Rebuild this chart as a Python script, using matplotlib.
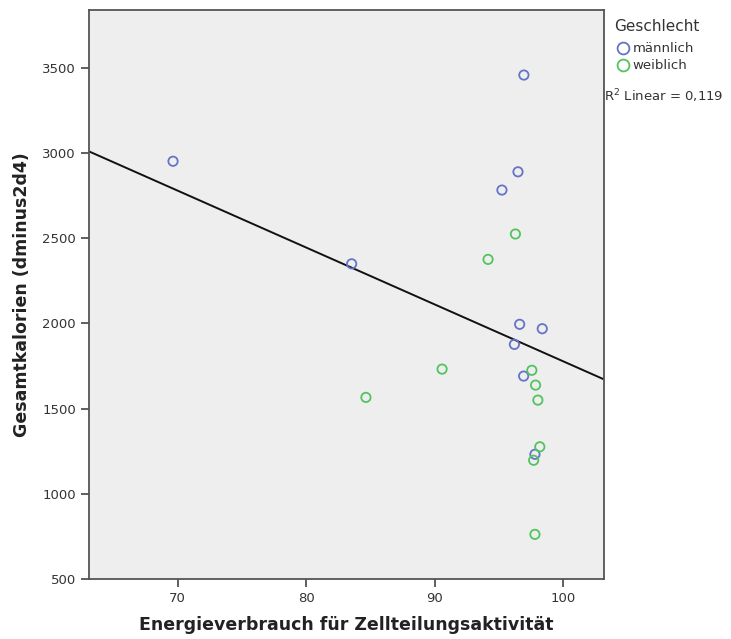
import numpy as np
import matplotlib
matplotlib.use("Agg")
import matplotlib.pyplot as plt
from matplotlib.lines import Line2D

# männlich
m_x = [96.96, 96.5, 95.25, 96.63, 98.39, 96.22, 96.94, 97.82, 69.64, 83.55]
m_y = [3458, 2890, 2783, 1995, 1969, 1877, 1691, 1232, 2952, 2350]
# weiblich
w_x = [96.3, 94.17, 97.58, 97.87, 98.05, 90.59, 98.2, 97.72, 97.82, 84.66]
w_y = [2525, 2376, 1725, 1638, 1550, 1732, 1276, 1197, 762, 1566]

x_ticks = [70, 80, 90, 100]
y_ticks = [500, 1000, 1500, 2000, 2500, 3000, 3500]

blue = "#6474C6"
green = "#52C45E"

fig = plt.figure(figsize=(7.31, 6.39), dpi=100)
ax = fig.add_axes([0.1218, 0.0939, 0.7045, 0.8905])
ax.set_facecolor("#EEEEEE")

ax.scatter(m_x, m_y, s=45, facecolors="none", edgecolors=blue, linewidths=1.3, zorder=3)
ax.scatter(w_x, w_y, s=45, facecolors="none", edgecolors=green, linewidths=1.3, zorder=3)

# linear fit over all points
all_x = np.array(m_x + w_x)
all_y = np.array(m_y + w_y)
slope, icpt = np.polyfit(all_x, all_y, 1)
xl = np.array([63.1, 103.2])
ax.plot(xl, icpt + slope * xl, color="#111111", lw=1.4, zorder=2)

ax.set_xlim(63.1, 103.2)
ax.set_ylim(500, 3840)
ax.set_xticks(x_ticks)
ax.set_yticks(y_ticks)
ax.tick_params(direction="out", length=6, width=1.2, color="#444444",
               labelsize=9.5, labelcolor="#333333")
for s in ax.spines.values():
    s.set_color("#555555")
    s.set_linewidth(1.3)

ax.set_xlabel("Energieverbrauch für Zellteilungsaktivität", fontsize=12.5,
              fontweight="bold", color="#222222", labelpad=8)
ax.set_ylabel("Gesamtkalorien (dminus2d4)", fontsize=12.5,
              fontweight="bold", color="#222222", labelpad=8)

fig.text(0.840, 0.958, "Geschlecht", fontsize=11, color="#333333", va="center")
handles = [Line2D([], [], marker="o", ls="none", mfc="none", mec=blue, mew=1.3, ms=8.5),
           Line2D([], [], marker="o", ls="none", mfc="none", mec=green, mew=1.3, ms=8.5)]
leg = fig.legend(handles, ["männlich", "weiblich"], loc="upper left",
                 bbox_to_anchor=(0.842, 0.934), frameon=False, fontsize=9.5,
                 handletextpad=0.1, borderaxespad=0, labelspacing=0.3,
                 handlelength=1.2, borderpad=0)
for t in leg.get_texts():
    t.set_color("#333333")
fig.text(0.826, 0.850, "R$^2$ Linear = 0,119", fontsize=9.5, color="#333333", va="center")

fig.savefig("out.png", dpi=100)
